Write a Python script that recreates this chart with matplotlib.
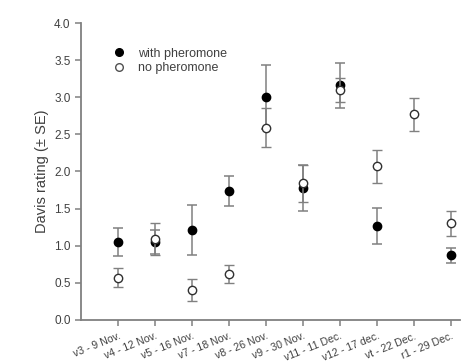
import matplotlib.pyplot as plt
from matplotlib.lines import Line2D
import numpy as np

plt.rcParams['font.family'] = ['Liberation Sans', 'DejaVu Sans']

# Sampling dates
fechas = ["v3 - 9 Nov.", "v4 - 12 Nov.", "v5 - 16 Nov.", "v7 - 18 Nov.", "v8 - 26 Nov.",
          "v9 - 30 Nov.", "v11 - 11 Dec.", "v12 - 17 dec.", "vt - 22 Dec.", "r1 - 29 Dec."]

# Davis rating, mean and SE
con_feromona = [1.05, 1.05, 1.21, 1.74, 3.00, 1.78, 3.16, 1.27, np.nan, 0.87]
con_feromona_se = [0.19, 0.16, 0.34, 0.20, 0.43, 0.31, 0.30, 0.24, np.nan, 0.10]
sin_feromona = [0.57, 1.09, 0.40, 0.62, 2.59, 1.84, 3.10, 2.07, 2.77, 1.30]
sin_feromona_se = [0.13, 0.22, 0.15, 0.12, 0.26, 0.25, 0.16, 0.22, 0.22, 0.17]

x = np.arange(1, len(fechas) + 1)
gris = '#808080'
texto = '#404040'

fig = plt.figure(figsize=(4.61, 3.63), dpi=100)
ax = fig.add_axes([0.1757, 0.1185, 0.8223, 0.8181])

ax.errorbar(x, con_feromona, yerr=con_feromona_se, fmt='o', color='black', ecolor=gris,
            elinewidth=1.1, capsize=3.5, capthick=1.1, markersize=6, zorder=3)
ax.errorbar(x, sin_feromona, yerr=sin_feromona_se, fmt='o', mfc='white', mec='#303030', ecolor=gris,
            elinewidth=1.1, capsize=3.5, capthick=1.1, markersize=6, mew=1.0, zorder=4)

ax.set_xlim(0, 10.25)
ax.set_ylim(0, 4)
ax.set_yticks(np.arange(0, 4.01, 0.5))
ax.set_yticklabels(['{:.1f}'.format(v) for v in np.arange(0, 4.01, 0.5)])
ax.set_xticks(x)
ax.set_xticklabels(fechas, rotation=22, ha='right', rotation_mode='anchor', fontsize=7.6)

ax.spines['top'].set_visible(False)
ax.spines['right'].set_visible(False)
for s in ['left', 'bottom']:
    ax.spines[s].set_color(gris)
    ax.spines[s].set_linewidth(1.3)
ax.tick_params(direction='out', length=4, width=1.1, color=gris, labelcolor=texto)
ax.tick_params(axis='y', labelsize=8.5)
ax.tick_params(axis='x', pad=4)

ax.set_ylabel('Davis rating (± SE)', color=texto, fontsize=10.5, labelpad=4)

manejadores = [
    Line2D([], [], ls='none', marker='o', color='black', markersize=5.5),
    Line2D([], [], ls='none', marker='o', mfc='white', mec='#505050', markersize=5.5),
]
leg = ax.legend(manejadores, ['with pheromone', 'no pheromone'], loc='upper left',
                bbox_to_anchor=(0.055, 0.955), frameon=False, fontsize=9,
                handletextpad=1.0, labelspacing=0.2, numpoints=1, handlelength=1.0)
for t in leg.get_texts():
    t.set_color(texto)

fig.savefig('out.png', dpi=100)
